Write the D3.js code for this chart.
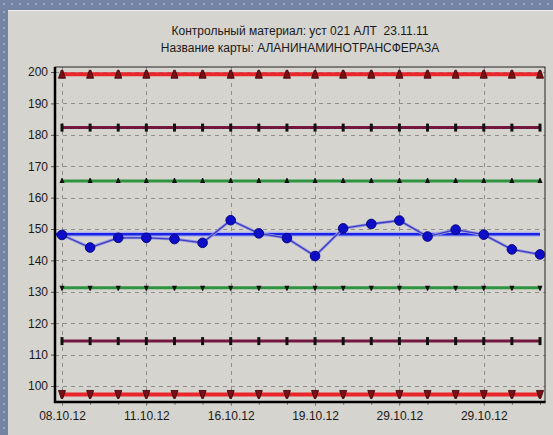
<!DOCTYPE html>
<html><head><meta charset="utf-8">
<script src="https://cdn.jsdelivr.net/npm/d3@7"></script>
<style>html,body{margin:0;padding:0;background:#7482a4;}svg{display:block;}</style>
</head><body>
<svg id="c" width="553" height="435"></svg>
<script>
// ---- data ----
const titleLines = ["Контрольный материал: уст 021 АЛТ  23.11.11", "Название карты: АЛАНИНАМИНОТРАНСФЕРАЗА"];
const pointIndex = [0,1,2,3,4,5,6,7,8,9,10,11,12,13,14,15,16,17];
const values = [148.1, 144.1, 147.2, 147.2, 146.8, 145.6, 152.8, 148.6, 147.1, 141.4, 150.2, 151.6, 152.7, 147.6, 149.8, 148.2, 143.5, 141.9];
const xTickIndex = [0, 3, 6, 9, 12, 15];
const xTickLabels = ["08.10.12", "11.10.12", "16.10.12", "19.10.12", "29.10.12", "29.10.12"];
const yTicks = [100, 110, 120, 130, 140, 150, 160, 170, 180, 190, 200];
const meanValue = 148.3;
const limitNames = ["+3s", "+2s", "+1s", "-1s", "-2s", "-3s"];
const limitValues = [199.3, 182.3, 165.3, 131.3, 114.3, 97.3];

// ---- layout ----
const svg = d3.select("#c");
const L = 55, R = 545, T = 67, B = 402;
const x = d3.scaleLinear().domain([0, 17]).range([62, 540]);
const y = d3.scaleLinear().domain([94.9, 201.6]).range([B, T]);

// background border with dots
const defs = svg.append("defs");
const pat = defs.append("pattern").attr("id","dots").attr("width",8).attr("height",8).attr("patternUnits","userSpaceOnUse");
pat.append("rect").attr("width",8).attr("height",8).attr("fill","#7482a4");
pat.append("rect").attr("x",3).attr("y",3).attr("width",2).attr("height",2).attr("fill","#9aa6c2");
svg.append("rect").attr("width",553).attr("height",435).attr("fill","url(#dots)");
svg.append("rect").attr("x",8).attr("y",10).attr("width",545).attr("height",425).attr("fill","#d6d4ce");
svg.append("line").attr("x1",8).attr("x2",553).attr("y1",10.5).attr("y2",10.5).attr("stroke","#f0eeea");

// titles
svg.append("g").selectAll("text").data(titleLines).join("text")
  .attr("x", 300).attr("y", (d,i) => 35 + i*17)
  .attr("text-anchor","middle")
  .style("white-space","pre")
  .attr("font-family","Liberation Sans, Arial, sans-serif")
  .attr("font-size", 12).attr("fill","#1a1a1a")
  .text(d => d);

// grid
const grid = svg.append("g").attr("stroke","#8f8f8f").attr("stroke-width",1).attr("stroke-dasharray","4,4");
grid.selectAll("line.h").data(yTicks).join("line").attr("class","h")
  .attr("x1",L).attr("x2",R).attr("y1",d=>Math.round(y(d))+0.5).attr("y2",d=>Math.round(y(d))+0.5);
grid.selectAll("line.v").data(xTickIndex).join("line").attr("class","v")
  .attr("x1",d=>Math.round(x(d))+0.5).attr("x2",d=>Math.round(x(d))+0.5).attr("y1",T).attr("y2",B+4);

// y axis
const yAxis = d3.axisLeft(y).tickValues(yTicks).tickSize(4).tickPadding(3);
const gy = svg.append("g").attr("transform",`translate(${L},0)`).call(yAxis);
gy.select(".domain").remove();
gy.selectAll("text").attr("font-family","Liberation Sans, Arial, sans-serif").attr("font-size",12).attr("fill","#1a1a1a");
gy.selectAll("line").attr("stroke","#555");

// x axis
const xAxis = d3.axisBottom(x).tickValues(pointIndex).tickSize(3).tickFormat(d => {
  const k = xTickIndex.indexOf(d); return k >= 0 ? xTickLabels[k] : "";
}).tickPadding(6);
const gx = svg.append("g").attr("transform",`translate(0,${B})`).call(xAxis);
gx.select(".domain").remove();
gx.selectAll("text").attr("font-family","Liberation Sans, Arial, sans-serif").attr("font-size",12).attr("fill","#1a1a1a");
gx.selectAll("line").attr("stroke","#777");

// control limit lines
const styles = {
  "+3s": {c:"#e8262c", w:4, m:"upBig"},
  "-3s": {c:"#e8262c", w:4, m:"downBig"},
  "+2s": {c:"#73173f", w:3, m:"tick"},
  "-2s": {c:"#73173f", w:3, m:"tick"},
  "+1s": {c:"#2f9440", w:3, m:"upSmall"},
  "-1s": {c:"#2f9440", w:3, m:"downSmall"}
};
const limits = limitNames.map((n,i)=>({name:n, v:limitValues[i]}));
const lg = svg.append("g");
lg.selectAll("line").data(limits).join("line")
  .attr("x1",x(0)).attr("x2",x(17)).attr("y1",d=>y(d.v)).attr("y2",d=>y(d.v))
  .attr("stroke",d=>styles[d.name].c).attr("stroke-width",d=>styles[d.name].w);
const markerPath = {
  upBig: "M-3.5,4 L3.5,4 L0.8,-4 L-0.8,-4 Z",
  downBig: "M-3.5,-4 L3.5,-4 L0.8,4 L-0.8,4 Z",
  tick: "M-1.5,-4 L1.5,-4 L1.5,4 L-1.5,4 Z",
  upSmall: "M-2.5,2 L2.5,2 L0.5,-3 L-0.5,-3 Z",
  downSmall: "M-2.5,-2 L2.5,-2 L0.5,3 L-0.5,3 Z"
};
limits.forEach(d => {
  const st = styles[d.name];
  lg.append("g").selectAll("path").data(pointIndex).join("path")
    .attr("transform", i => `translate(${x(i)},${y(d.v)})`)
    .attr("d", markerPath[st.m])
    .attr("fill", st.m.endsWith("Big") ? "#7a0f18" : "#111")
    .attr("stroke", st.m.endsWith("Big") ? "#300" : "none").attr("stroke-width",0.8);
});

// mean line
svg.append("line").attr("x1",L+1).attr("x2",x(17)).attr("y1",y(meanValue)).attr("y2",y(meanValue))
  .attr("stroke","#aab0ee").attr("stroke-width",5);
svg.append("line").attr("x1",L+1).attr("x2",x(17)).attr("y1",y(meanValue)).attr("y2",y(meanValue))
  .attr("stroke","#1a22e6").attr("stroke-width",2.5);

// data series
const line = d3.line().x((d,i)=>x(pointIndex[i])).y(d=>y(d));
svg.append("path").datum(values).attr("d",line).attr("fill","none").attr("stroke","#9a9ae0").attr("stroke-width",3);
svg.append("path").datum(values).attr("d",line).attr("fill","none").attr("stroke","#3a3ac4").attr("stroke-width",1.3);
svg.append("g").selectAll("circle").data(values).join("circle")
  .attr("cx",(d,i)=>x(pointIndex[i])).attr("cy",d=>y(d)).attr("r",4.8)
  .attr("fill","#0d0dc8").attr("stroke","#060680").attr("stroke-width",1);

// frame
svg.append("rect").attr("x",L).attr("y",T).attr("width",R-L).attr("height",B-T)
  .attr("fill","none").attr("stroke","#222").attr("stroke-width",1);
svg.append("line").attr("x1",L).attr("x2",L).attr("y1",T).attr("y2",B+1).attr("stroke","#000").attr("stroke-width",2.5);
svg.append("line").attr("x1",L-1).attr("x2",R+0.5).attr("y1",B).attr("y2",B).attr("stroke","#000").attr("stroke-width",2.5);
</script>
</body></html>
